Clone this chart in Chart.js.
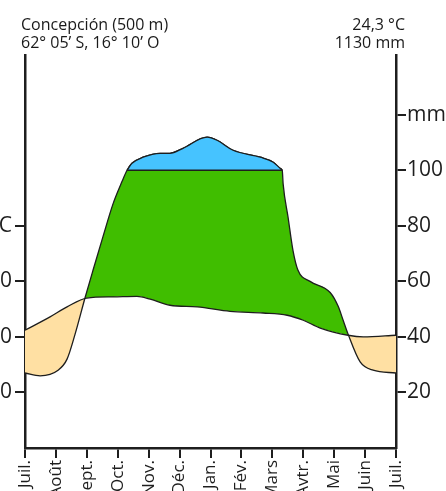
<!DOCTYPE html>
<html><head><meta charset="utf-8">
<script src="https://cdn.jsdelivr.net/npm/chart.js@4"></script>
<style>
html,body{margin:0;padding:0;background:#fff;overflow:hidden}
#wrap{position:relative;width:446px;height:491px}
canvas{position:absolute;left:0;top:0}
.hd{position:absolute;font-family:"Open Sans",sans-serif;font-size:16px;line-height:18px;color:#1a1a1a;white-space:nowrap}
#hl{left:21px;top:15px}
#hr{right:41px;top:15px;text-align:right}
</style></head><body>
<div id="wrap"><canvas id="c" width="446" height="491"></canvas>
<div class="hd" id="hl">Concepción (500 m)<br>62° 05’ S, 16° 10’ O</div>
<div class="hd" id="hr">24,3 °C<br>1130 mm</div></div>
<script>
const monthLabels = ['Juil.','Août','Sept.','Oct.','Nov.','Déc.','Jan.','Fév.','Mars','Avtr.','Mai','Juin','Juil.'];
// temperature (°C); x in months from July
const tempX = [0, 0.81, 1.36, 2.0, 2.85, 3.62, 4.05, 4.69, 5.57, 6.63, 7.70, 8.48, 9.0, 9.55, 10.45, 10.94, 12];
const tempC = [21.2, 23.6, 25.4, 27.0, 27.2, 27.3, 26.8, 25.7, 25.4, 24.6, 24.3, 23.9, 23.0, 21.6, 20.3, 20.0, 20.3];
// precipitation (mm)
const precX = [0, 0.49, 1.07, 1.36, 1.62, 1.94, 2.20, 2.52, 2.85, 3.14, 3.30, 3.46, 3.82, 4.37, 4.69, 5.11, 5.89, 6.21, 6.73, 7.61, 8.03, 8.25, 8.32, 8.35, 8.51, 8.67, 8.83, 9.22, 9.87, 10.13, 10.29, 10.45, 10.84, 11.26, 12];
const precMM = [27, 26, 28, 32, 41, 54, 64, 76, 88, 96, 100, 125, 147, 161, 161, 179, 219, 208, 172, 147, 129, 107, 100, 95, 83, 71, 64, 60, 56, 51, 46, 41, 31, 28, 27];
const humidLimitX = [3.30, 8.32];
const mmTicks = [20, 40, 60, 80, 100, 120];
const mmTickLabels = ['20', '40', '60', '80', '100', 'mm'];
const tempTicks = [10, 20, 30, 40];
const tempTickLabels = ['10', '20', '30', '°C'];

const disp = v => v <= 100 ? v : 100 + (v - 100) / 10;
const ink = '#1e1e1e';
Chart.defaults.font.family = '"Open Sans", sans-serif';
Chart.defaults.color = ink;

const precPts = precX.map((x, i) => ({x, y: disp(precMM[i])}));
const wetPts = precPts.filter((p, i) => precMM[i] >= 100);

const lineBase = {borderColor: ink, borderWidth: 1.3, pointRadius: 0, pointHoverRadius: 0, cubicInterpolationMode: 'monotone'};
const axisGrid = {drawOnChartArea: false, drawTicks: true, tickLength: 10, color: ink, lineWidth: 2, tickWidth: 2};
const axisBorder = {display: true, color: ink, width: 2.5};

new Chart(document.getElementById('c'), {
  type: 'line',
  data: {
    datasets: [
      Object.assign({label: 'Température', yAxisID: 'yT', fill: false,
        data: tempX.map((x, i) => ({x, y: tempC[i]}))}, lineBase),
      Object.assign({label: '100 mm', yAxisID: 'y', fill: false,
        data: humidLimitX.map(x => ({x, y: 100}))}, lineBase, {cubicInterpolationMode: 'default'}),
      Object.assign({label: 'Précipitations > 100 mm', yAxisID: 'y',
        fill: {target: {value: 100}, above: '#46C3FF', below: 'rgba(0,0,0,0)'},
        data: wetPts.map(p => ({x: p.x, y: p.y}))}, lineBase),
      Object.assign({label: 'Précipitations', yAxisID: 'y',
        fill: {target: 0, above: '#40BE00', below: '#FFE0A3'},
        data: precPts.map(p => ({x: p.x, y: p.y}))}, lineBase)
    ]
  },
  options: {
    responsive: false,
    animation: false,
    devicePixelRatio: 1,
    layout: {padding: {top: 55, left: 0, right: 0, bottom: 0}},
    plugins: {legend: {display: false}, tooltip: {enabled: false}, title: {display: false}},
    scales: {
      x: {
        type: 'linear', position: 'bottom', min: 0, max: 12,
        afterBuildTicks: s => { s.ticks = monthLabels.map((_, i) => ({value: i})); },
        afterFit: s => { s.height = 43; },
        ticks: {autoSkip: false, maxRotation: 90, minRotation: 90, padding: 2, color: ink,
          font: {size: 17}, callback: v => monthLabels[v]},
        grid: axisGrid, border: axisBorder
      },
      y: {
        type: 'linear', position: 'right', min: 0, max: 141.5,
        afterBuildTicks: s => { s.ticks = mmTicks.map(v => ({value: v})); },
        afterFit: s => { s.width = 50; },
        ticks: {padding: 1, color: ink, font: {size: 21},
          callback: v => mmTickLabels[mmTicks.indexOf(v)]},
        grid: axisGrid, border: axisBorder
      },
      yT: {
        type: 'linear', position: 'left', min: 0, max: 70.75,
        afterBuildTicks: s => { s.ticks = tempTicks.map(v => ({value: v})); },
        afterFit: s => { s.width = 25; },
        ticks: {padding: 3, color: ink, font: {size: 21},
          callback: v => tempTickLabels[tempTicks.indexOf(v)]},
        grid: axisGrid, border: axisBorder
      }
    }
  }
});
</script>
</body></html>
